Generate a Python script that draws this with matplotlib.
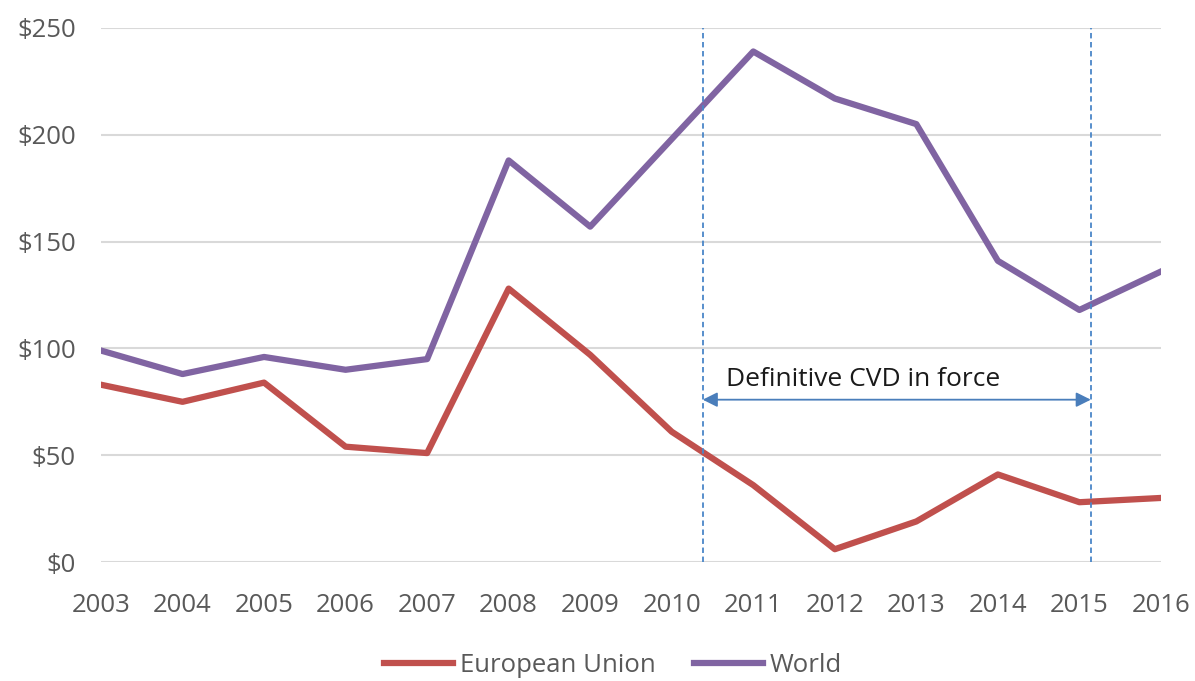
import matplotlib.pyplot as plt

# Datos (valores en $)
anios = [2003, 2004, 2005, 2006, 2007, 2008, 2009, 2010, 2011, 2012, 2013, 2014, 2015, 2016]
union_europea = [83, 75, 84, 54, 51, 128, 97, 61, 36, 6, 19, 41, 28, 30]
mundo = [99, 88, 96, 90, 95, 188, 157, 198, 239, 217, 205, 141, 118, 136]
etiquetas_y = ['$0', '$50', '$100', '$150', '$200', '$250']
valores_y = [0, 50, 100, 150, 200, 250]

# Periodo de derechos compensatorios definitivos
inicio_cvd = 2010.38
fin_cvd = 2015.14
nivel_flecha = 76
texto_cvd = 'Definitive CVD in force'

plt.rcParams['font.family'] = ['Open Sans', 'DejaVu Sans']

fig = plt.figure(figsize=(11.95, 6.81), dpi=100)
ax = fig.add_axes([0.0845, 0.1747, 0.887, 0.7842])

ax.plot(anios, union_europea, color='#C0504D', linewidth=4.5, label='European Union',
        solid_joinstyle='round')
ax.plot(anios, mundo, color='#8064A2', linewidth=4.5, label='World',
        solid_joinstyle='round')

# Lineas verticales discontinuas
for xv in (inicio_cvd, fin_cvd):
    ax.axvline(xv, color='#4A86C8', linewidth=1.3, linestyle=(0, (3, 2)), zorder=3)

# Flecha doble
ax.annotate('', xy=(inicio_cvd, nivel_flecha), xytext=(fin_cvd, nivel_flecha),
            arrowprops=dict(arrowstyle='<|-|>', color='#4A7EBB', lw=1.3,
                            mutation_scale=22, shrinkA=0, shrinkB=0))
ax.text(inicio_cvd + 0.28, nivel_flecha + 3.5, texto_cvd, fontsize=19,
        color='#1a1a1a', va='bottom', ha='left')

ax.set_xlim(2003, 2016)
ax.set_ylim(0, 250)
ax.set_xticks(anios)
ax.set_xticklabels([str(a) for a in anios])
ax.set_yticks(valores_y)
ax.set_yticklabels(etiquetas_y)
ax.grid(axis='y', color='#D9D9D9', linewidth=1.5)
ax.set_axisbelow(True)
for s in ax.spines.values():
    s.set_visible(False)
ax.tick_params(length=0, labelsize=18.5, colors='#595959')
ax.tick_params(axis='y', pad=18)
ax.tick_params(axis='x', pad=22)

fig.legend(loc='lower center', bbox_to_anchor=(0.513, -0.03), ncol=2, frameon=False,
           fontsize=18.5, labelcolor='#595959', handlelength=2.7, handletextpad=0.25,
           columnspacing=1.5)

plt.savefig('out.png', dpi=100)
